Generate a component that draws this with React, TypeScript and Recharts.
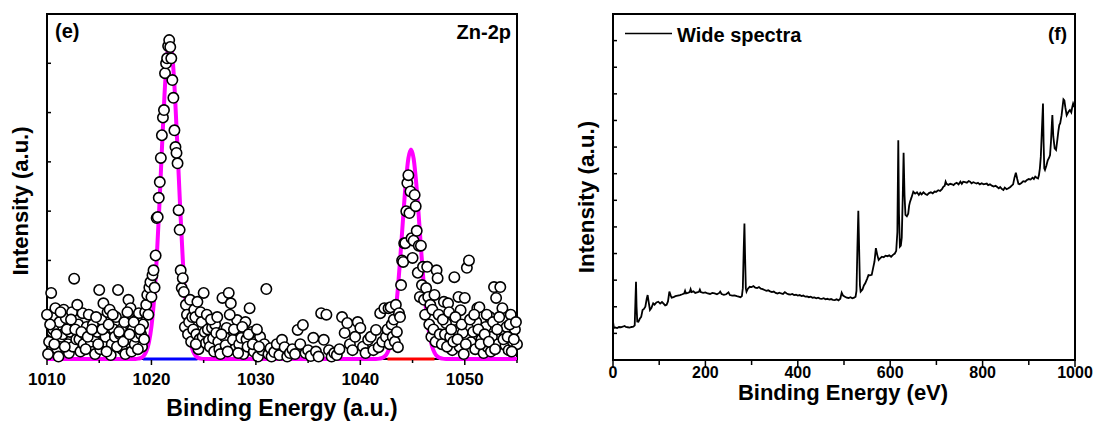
import { ComposedChart, Customized, Line, ReferenceArea, Scatter, XAxis, YAxis } from 'recharts';

const FONT = '"Liberation Sans", Arial, Helvetica, sans-serif';

type Pair = [number, number];

// ---- panel (e): Zn-2p, measured points split by region [energy, intensity]
const zn2pBackgroundLow: Pair[] = [
  [1010.0, 0.9], [1010.1, 0.1], [1010.2, 0.35], [1010.4, 1.34], [1010.5, 0.55], [1010.6, 0.6],
  [1010.8, 1.03], [1011.0, 0.2], [1011.1, 0.05], [1011.2, 0.75], [1011.4, 0.45], [1011.5, 0.5],
  [1011.6, 1.0], [1011.8, 0.83], [1012.0, 0.3], [1012.1, 0.12], [1012.2, 0.55], [1012.4, 0.95],
  [1012.5, 0.25], [1012.6, 1.63], [1012.8, 0.4], [1013.0, 0.7], [1013.1, 0.4], [1013.2, 0.15],
  [1013.4, 0.93], [1013.5, 0.3], [1013.6, 0.5], [1013.8, 0.65], [1014.0, 0.9], [1014.1, 0.25],
  [1014.2, 0.35], [1014.4, 0.7], [1014.5, 0.45], [1014.6, 0.1], [1014.8, 0.55], [1015.0, 1.4],
  [1015.1, 0.2], [1015.2, 0.8], [1015.4, 1.13], [1015.5, 0.35], [1015.6, 0.45], [1015.8, 0.95],
  [1016.0, 1.0], [1016.1, 0.08], [1016.2, 0.3], [1016.4, 0.6], [1016.5, 0.45], [1016.6, 0.85],
  [1016.8, 1.4], [1017.0, 0.5], [1017.1, 0.6], [1017.2, 0.2], [1017.4, 0.75], [1017.5, 0.1],
  [1017.6, 0.4], [1017.8, 1.2], [1018.0, 1.03], [1018.1, 0.15], [1018.2, 0.6], [1018.4, 0.3],
  [1018.5, 0.45], [1018.6, 0.8], [1018.8, 0.93], [1019.0, 0.5], [1019.1, 0.25], [1019.2, 0.7],
  [1019.3, 0.4], [1019.4, 0.95],
];
const zn2pBackgroundLowDense: Pair[] = [
  [1010.3, 0.7], [1010.7, 0.3], [1010.9, 0.5], [1011.3, 0.95], [1011.7, 0.25], [1011.9, 0.6],
  [1012.3, 0.8], [1012.7, 0.6], [1012.9, 1.1], [1013.3, 0.55], [1013.7, 0.2], [1013.9, 0.45],
  [1014.3, 0.6], [1014.7, 0.85], [1014.9, 0.3], [1015.3, 0.6], [1015.7, 0.15], [1015.9, 0.7],
  [1016.3, 0.9], [1016.7, 0.25], [1016.9, 0.55], [1017.3, 0.35], [1017.7, 0.95], [1017.9, 0.5],
  [1018.3, 0.75], [1018.7, 0.2], [1018.9, 0.6],
];

const zn2pPeak32: Pair[] = [
  [1019.5, 1.1], [1019.6, 1.3], [1019.7, 0.9], [1019.8, 1.45], [1019.9, 1.56], [1020.0, 1.26],
  [1020.1, 1.7], [1020.2, 1.8], [1020.3, 1.45], [1020.4, 2.1], [1020.5, 2.86], [1020.6, 2.88],
  [1020.7, 3.27], [1020.8, 3.59], [1020.9, 4.08], [1021.0, 4.54], [1021.1, 4.9], [1021.2, 5.05],
  [1021.3, 5.8], [1021.4, 6.0], [1021.5, 6.1], [1021.6, 6.35], [1021.7, 6.47], [1021.8, 6.33],
  [1021.9, 6.1], [1022.0, 5.66], [1022.1, 5.3], [1022.2, 4.64], [1022.3, 4.3], [1022.4, 4.18],
  [1022.5, 3.97], [1022.6, 3.02], [1022.7, 2.62], [1022.8, 1.8], [1022.9, 1.44], [1023.0, 1.64],
  [1023.1, 1.36], [1023.2, 0.65], [1023.3, 1.1], [1023.4, 0.9], [1023.5, 0.5], [1023.6, 0.75],
  [1023.7, 1.2], [1023.8, 0.35], [1023.9, 0.85], [1024.0, 0.6], [1024.1, 1.0],
];

const zn2pBackgroundMid: Pair[] = [
  [1024.2, 0.85], [1024.3, 0.5], [1024.4, 1.16], [1024.5, 0.2], [1024.6, 0.4], [1024.7, 0.95],
  [1024.8, 0.75], [1024.9, 0.45], [1025.0, 1.34], [1025.1, 0.55], [1025.2, 0.32], [1025.3, 0.9],
  [1025.4, 0.6], [1025.5, 0.38], [1025.6, 0.25], [1025.8, 0.63], [1025.9, 0.42], [1026.0, 0.15],
  [1026.1, 0.7], [1026.2, 0.53], [1026.4, 0.35], [1026.5, 0.2], [1026.6, 0.1], [1026.8, 1.24],
  [1027.0, 0.45], [1027.1, 0.28], [1027.2, 0.63], [1027.4, 1.34], [1027.6, 1.13], [1027.8, 0.39],
  [1028.0, 0.2], [1028.2, 0.79], [1028.4, 0.3], [1028.5, 0.55], [1028.6, 0.43], [1028.8, 0.1],
  [1029.0, 0.75], [1029.1, 0.4], [1029.2, 0.25], [1029.4, 1.03], [1029.6, 0.55], [1029.8, 0.15],
  [1030.0, 0.35], [1030.2, 0.05], [1030.4, 0.45], [1030.6, 0.18], [1030.8, 0.3], [1031.0, 1.42],
  [1031.2, 0.1], [1031.4, 0.22], [1031.5, 0.05], [1031.75, 0.14], [1032.0, 0.3], [1032.25, 0.08],
  [1032.5, 0.39], [1032.75, 0.24], [1033.0, 0.05], [1033.25, 0.12], [1033.5, 0.2], [1033.75, 0.1],
  [1034.0, 0.59], [1034.25, 0.3], [1034.5, 0.69], [1034.75, 0.12], [1035.0, 0.18], [1035.25, 0.06],
  [1035.5, 0.43], [1035.75, 0.15], [1036.0, 0.05], [1036.25, 0.93], [1036.5, 0.39], [1036.75, 0.9],
  [1037.0, 0.18], [1037.25, 0.05], [1037.5, 0.12], [1037.75, 0.08], [1038.0, 0.2], [1038.25, 0.85],
  [1038.5, 0.53], [1038.75, 0.73], [1039.0, 0.3], [1039.25, 0.18], [1039.5, 0.45], [1039.75, 0.75],
  [1040.0, 0.63], [1040.25, 0.25], [1040.5, 0.12], [1040.75, 0.39], [1041.0, 0.45], [1041.25, 0.18],
  [1041.5, 0.59], [1041.75, 0.24], [1041.9, 0.93], [1042.1, 0.35], [1042.3, 1.03], [1042.45, 0.45],
];
const zn2pBackgroundMidDense: Pair[] = [
  [1024.25, 0.3], [1025.7, 0.8], [1026.3, 0.85], [1026.7, 0.5], [1027.3, 0.15], [1027.5, 0.9],
  [1027.9, 0.6], [1028.3, 0.12], [1028.7, 0.65], [1029.3, 0.5], [1029.7, 0.3], [1030.1, 0.6],
  [1030.3, 0.25],
];

const zn2pPeak12: Pair[] = [
  [1042.6, 0.6], [1042.7, 1.03], [1042.8, 0.3], [1042.9, 1.05], [1043.0, 0.7], [1043.1, 0.45],
  [1043.2, 0.8], [1043.3, 0.35], [1043.4, 1.1], [1043.5, 0.55], [1043.6, 0.24], [1043.7, 0.93],
  [1043.8, 0.85], [1043.9, 1.5], [1044.0, 2.0], [1044.1, 1.97], [1044.2, 2.35], [1044.3, 2.35],
  [1044.4, 3.0], [1044.5, 3.57], [1044.6, 3.73], [1044.7, 2.96], [1044.8, 3.4], [1044.9, 2.45],
  [1045.0, 2.05], [1045.1, 2.4], [1045.2, 3.33], [1045.3, 3.1], [1045.4, 2.6], [1045.5, 1.75],
  [1045.6, 2.3], [1045.7, 1.26], [1045.8, 2.3], [1045.9, 1.5], [1046.0, 1.87], [1046.1, 1.2],
  [1046.2, 0.9], [1046.3, 1.44], [1046.4, 1.87], [1046.5, 1.26], [1046.6, 0.7], [1046.7, 1.1],
  [1046.8, 0.45], [1046.9, 1.0], [1047.0, 0.6], [1047.1, 1.3], [1047.2, 0.35], [1047.3, 1.8],
  [1047.4, 1.64], [1047.5, 0.9], [1047.6, 0.5],
];

const zn2pBackgroundHigh: Pair[] = [
  [1047.8, 0.3], [1048.0, 1.16], [1048.1, 0.5], [1048.2, 0.73], [1048.4, 1.13], [1048.6, 0.45],
  [1048.8, 0.18], [1049.0, 1.66], [1049.2, 0.59], [1049.4, 1.26], [1049.5, 0.25], [1049.6, 0.99],
  [1049.8, 0.53], [1049.9, 0.1], [1050.0, 1.24], [1050.2, 1.85], [1050.4, 2.0], [1050.6, 0.34],
  [1050.8, 0.55], [1051.0, 0.2], [1051.1, 0.75], [1051.2, 1.03], [1051.4, 1.05], [1051.6, 0.4],
  [1051.8, 0.12], [1052.0, 0.65], [1052.2, 0.24], [1052.4, 0.85], [1052.5, 0.15], [1052.6, 0.45],
  [1052.8, 1.46], [1053.0, 1.24], [1053.2, 0.3], [1053.4, 1.46], [1053.6, 1.03], [1053.8, 0.55],
  [1053.9, 0.28], [1054.0, 0.65], [1054.2, 0.18], [1054.4, 0.9], [1054.6, 0.35], [1054.8, 0.6],
  [1055.0, 0.3],
];
const zn2pBackgroundHighDense: Pair[] = [
  [1047.9, 0.8], [1048.3, 0.25], [1048.5, 0.95], [1048.7, 0.6], [1048.9, 0.35], [1049.1, 0.85],
  [1049.3, 0.4], [1049.7, 0.7], [1050.1, 0.3], [1050.5, 0.8], [1050.9, 0.9], [1051.3, 0.6],
  [1051.5, 0.3], [1051.9, 0.5], [1052.1, 0.9], [1052.3, 0.35], [1052.7, 0.75], [1052.9, 0.2],
  [1053.1, 0.6], [1053.3, 0.85], [1053.7, 0.4], [1054.1, 0.45], [1054.3, 0.7], [1054.5, 0.15],
  [1054.7, 0.4], [1054.9, 0.75],
];

// fitted envelope (magenta) and the two peak baselines
const zn2pFit: Pair[] = [
  [1010, 0], [1018.5, 0], [1018.75, 0.008], [1019, 0.023], [1019.25, 0.062], [1019.5, 0.15],
  [1019.75, 0.33], [1020, 0.66], [1020.25, 1.21], [1020.5, 2.02], [1020.75, 3.07], [1021, 4.25],
  [1021.25, 5.36], [1021.5, 6.16], [1021.75, 6.45], [1022, 6.16], [1022.25, 5.36], [1022.5, 4.25],
  [1022.75, 3.07], [1023, 2.02], [1023.25, 1.21], [1023.5, 0.66], [1023.75, 0.33], [1024, 0.15],
  [1024.25, 0.062], [1024.5, 0.023], [1024.75, 0.008], [1025, 0], [1041.5, 0], [1041.85, 0.008],
  [1042.1, 0.023], [1042.35, 0.056], [1042.6, 0.13], [1042.85, 0.27], [1043.1, 0.51],
  [1043.35, 0.9], [1043.6, 1.44], [1043.85, 2.13], [1044.1, 2.88], [1044.35, 3.57],
  [1044.6, 4.07], [1044.85, 4.25], [1045.1, 4.07], [1045.35, 3.57], [1045.6, 2.88],
  [1045.85, 2.13], [1046.1, 1.44], [1046.35, 0.9], [1046.6, 0.51], [1046.85, 0.27],
  [1047.1, 0.13], [1047.35, 0.056], [1047.6, 0.023], [1047.85, 0.008], [1048.2, 0], [1055, 0],
];
const zn2p32Base: Pair[] = [[1019.2, 0], [1024.4, 0]];
const zn2p12Base: Pair[] = [[1042.6, 0], [1047.1, 0]];

const ZN_X_TICKS = [1010, 1015, 1020, 1025, 1030, 1035, 1040, 1045, 1050, 1055];
const ZN_Y_TICKS = [0, 1, 2, 3, 4, 5, 6, 7];

// ---- panel (f): wide survey spectrum [eV, intensity]
const surveyLowEnergy: Pair[] = [
  [0, 1.44], [2, 1.2], [5, 1.22], [9, 1.2], [13, 1.24], [17, 1.23], [21, 1.25], [25, 1.28],
  [28, 1.24], [32, 1.23], [36, 1.22], [40, 1.24], [44, 1.25], [47, 1.3], [48.5, 2.2], [49.8, 2.94],
  [51, 2.0], [52.5, 1.45], [55, 1.44], [58, 1.55], [61, 1.62], [64, 1.88], [67, 1.92], [70, 2.0],
  [73, 2.3], [75, 2.44], [77, 2.2], [80, 1.88], [83, 1.95], [87, 2.13], [90, 2.08], [94, 2.16],
  [98, 2.19], [102, 2.12], [106, 2.18], [109, 2.13], [113, 2.05], [116, 2.07], [119, 2.2],
  [122, 2.57], [125, 2.42], [127, 2.34], [131, 2.36], [135, 2.4], [140, 2.42], [145, 2.44],
  [150, 2.47], [154, 2.5], [156, 2.6], [158, 2.5], [162, 2.52], [166, 2.55], [168, 2.66],
  [170, 2.55], [174, 2.58], [178, 2.52], [182, 2.54], [186, 2.56], [188, 2.64], [190, 2.55],
  [195, 2.52], [200, 2.54], [205, 2.5], [210, 2.48], [215, 2.52], [220, 2.5], [225, 2.47],
  [230, 2.52], [232, 2.57], [235, 2.48], [240, 2.45], [245, 2.47], [250, 2.54], [253, 2.44],
  [258, 2.42], [263, 2.43], [268, 2.4], [272, 2.38], [276, 2.36], [279, 2.4], [281, 2.7],
  [283, 4.2], [284.5, 5.13], [286, 3.8], [287.5, 2.7], [289, 2.57],
];

const surveyMidEnergy: Pair[] = [
  [292, 2.68], [296, 2.75], [300, 2.74], [304, 2.78], [308, 2.72], [312, 2.7], [316, 2.74],
  [320, 2.68], [324, 2.66], [328, 2.63], [332, 2.6], [336, 2.62], [340, 2.58], [344, 2.55],
  [348, 2.57], [352, 2.52], [356, 2.5], [360, 2.53], [364, 2.5], [368, 2.48], [372, 2.55],
  [376, 2.5], [380, 2.47], [384, 2.46], [388, 2.48], [392, 2.44], [396, 2.45], [400, 2.42],
  [404, 2.44], [408, 2.4], [412, 2.42], [416, 2.38], [420, 2.39], [424, 2.36], [428, 2.38],
  [432, 2.34], [436, 2.35], [440, 2.32], [444, 2.34], [448, 2.31], [452, 2.3], [456, 2.32],
  [460, 2.28], [464, 2.3], [468, 2.27], [472, 2.29], [476, 2.26], [480, 2.25], [484, 2.28],
  [488, 2.24], [492, 2.3], [495, 2.53], [498, 2.42], [502, 2.38], [506, 2.34], [510, 2.33],
  [514, 2.36], [518, 2.32], [522, 2.34], [525, 2.38], [527, 2.6], [529, 4.2], [531, 5.61],
  [533, 4.0], [534.5, 2.8], [536, 2.57], [540, 2.65], [543, 2.8], [546, 2.88], [550, 3.05],
  [553, 3.19], [556, 3.18], [560, 3.2], [563, 3.45], [566, 3.7], [569, 4.2], [572, 3.95],
  [575, 3.76], [578, 3.82], [582, 3.88], [586, 3.86], [590, 3.92], [594, 3.9], [598, 3.93],
  [602, 3.88], [606, 3.95], [610, 4.0], [613, 4.1], [615.5, 4.8], [617.5, 8.26], [619, 5.5],
  [621, 4.26], [623, 4.3], [625, 4.6], [627, 6.0], [629, 7.79], [631, 6.2], [633, 5.45],
  [636, 5.4], [639, 5.5], [641, 5.8], [643, 5.95],
];

const surveyHighEnergy: Pair[] = [
  [646, 6.1], [650, 6.32], [654, 6.25], [658, 6.3], [662, 6.2], [665, 6.28], [668, 6.22],
  [672, 6.3], [676, 6.24], [680, 6.2], [684, 6.27], [688, 6.3], [692, 6.26], [696, 6.33],
  [700, 6.32], [704, 6.38], [708, 6.35], [712, 6.42], [715, 6.51], [718, 6.55], [720, 6.7],
  [722, 6.62], [726, 6.58], [730, 6.62], [734, 6.6], [737, 6.57], [740, 6.62], [744, 6.66],
  [748, 6.6], [752, 6.7], [755, 6.62], [758, 6.7], [762, 6.68], [766, 6.66], [770, 6.72],
  [773, 6.7], [776, 6.64], [780, 6.68], [784, 6.65], [787, 6.63], [790, 6.66], [794, 6.6],
  [798, 6.64], [802, 6.6], [806, 6.62], [809, 6.63], [812, 6.57], [816, 6.6], [820, 6.55],
  [824, 6.52], [828, 6.55], [831, 6.51], [835, 6.45], [838, 6.5], [842, 6.42], [845, 6.39],
  [848, 6.48], [852, 6.42], [856, 6.45], [860, 6.5], [863, 6.55], [866, 6.6], [869, 6.85],
  [872, 7.04], [875, 6.8], [877.5, 6.62], [880, 6.6], [884, 6.65], [888, 6.72], [892, 6.7],
  [896, 6.76], [900, 6.8], [904, 6.78], [908, 6.85], [911, 6.8], [914, 6.89], [917, 6.85],
  [920, 6.82], [922, 6.95], [924, 7.2], [926, 7.64], [928, 8.5], [930.7, 9.64], [932, 8.2],
  [933.5, 7.2], [935, 7.14], [938, 7.3], [941, 7.5], [944, 7.6], [946, 7.7], [948, 8.2],
  [950, 8.9], [951, 9.2], [953, 8.4], [956, 7.95], [959, 7.89], [962, 8.3], [964, 8.6],
  [966, 8.83], [968, 8.9], [971, 9.2], [973, 9.5], [975, 9.79], [977, 9.75], [979, 9.5],
  [982, 9.2], [985, 9.3], [987, 9.35], [989, 9.39], [992, 9.3], [994, 9.5], [996, 9.64],
  [998, 9.55], [1000, 9.66],
];

const SURVEY_X_TICKS = [0, 100, 200, 300, 400, 500, 600, 700, 800, 900, 1000];
const SURVEY_Y_TICKS = [0, 1, 2, 3, 4, 5, 6, 7, 8, 9, 10, 11, 12, 13];

const toRows = (pairs: Pair[]) => pairs.map(([e, v]) => ({ e, v }));

const znPoints = toRows([
  ...zn2pBackgroundLow,
  ...zn2pBackgroundLowDense,
  ...zn2pPeak32,
  ...zn2pBackgroundMid,
  ...zn2pBackgroundMidDense,
  ...zn2pPeak12,
  ...zn2pBackgroundHigh,
  ...zn2pBackgroundHighDense,
]);
const surveyRows = toRows([...surveyLowEnergy, ...surveyMidEnergy, ...surveyHighEnergy]);

// frame is drawn by a ReferenceArea (behind the data), so axes draw no line
const FRAME = { fill: 'none', stroke: '#000', strokeWidth: 2 };

function makeEnergyTick(majorEvery: number, majorLen: number, minorLen: number, gap: number, fontSize: number) {
  return (props: any) => {
    const { x, y, payload } = props;
    const major = payload.value % majorEvery === 0;
    return (
      <g>
        <line x1={x} x2={x} y1={y + 1} y2={y + 1 + (major ? majorLen : minorLen)} stroke="#000" strokeWidth={1.5} />
        {major && (
          <text
            x={x}
            y={y + gap}
            dy="0.71em"
            textAnchor="middle"
            fontFamily={FONT}
            fontWeight="bold"
            fontSize={fontSize}
            fill="#000"
          >
            {payload.value}
          </text>
        )}
      </g>
    );
  };
}

const circleShape = (props: any) => (
  <circle cx={props.cx} cy={props.cy} r={5.2} fill="#fff" stroke="#000" strokeWidth={1.6} />
);

function ZnText() {
  return (
    <g fontFamily={FONT} fontWeight="bold" fill="#000">
      <text x={55} y={38} fontSize={20}>(e)</text>
      <text x={511} y={39} fontSize={20} textAnchor="end">Zn-2p</text>
      <text x={282} y={416} fontSize={23} textAnchor="middle">Binding Energy (a.u.)</text>
      <text transform="translate(28,201) rotate(-90)" fontSize={22} textAnchor="middle">
        Intensity (a.u.)
      </text>
    </g>
  );
}

function SurveyText() {
  return (
    <g fontFamily={FONT} fontWeight="bold" fill="#000">
      <line x1={65} x2={112} y1={33.5} y2={33.5} stroke="#000" strokeWidth={1.5} />
      <text x={117} y={41.5} fontSize={20}>Wide spectra</text>
      <text x={507} y={40} fontSize={19} textAnchor="end">(f)</text>
      <text x={283} y={400} fontSize={22} textAnchor="middle">Binding Energy (eV)</text>
      <text transform="translate(34,197) rotate(-90)" fontSize={22.5} textAnchor="middle">
        Intensity (a.u.)
      </text>
    </g>
  );
}

function Zn2pPanel() {
  return (
    <ComposedChart width={545} height={422} margin={{ top: 14, right: 28, bottom: 33, left: 47 }}>
      <XAxis
        dataKey="e"
        type="number"
        domain={[1010, 1055]}
        ticks={ZN_X_TICKS}
        interval={0}
        height={30}
        tickSize={0}
        tickMargin={0}
        tickLine={false}
        axisLine={false}
        tick={makeEnergyTick(10, 5, 3, 14, 17)}
      />
      <YAxis
        type="number"
        domain={[0, 7]}
        ticks={ZN_Y_TICKS}
        mirror
        tickSize={4}
        tickLine={{ stroke: '#000', strokeWidth: 1.5 }}
        tickFormatter={() => ''}
        axisLine={false}
      />
      <ReferenceArea x1={1010} x2={1055} y1={0} y2={7} {...FRAME} />
      <Scatter data={znPoints} dataKey="v" shape={circleShape} isAnimationActive={false} />
      <Line data={toRows(zn2p32Base)} dataKey="v" stroke="#0000ff" strokeWidth={3} dot={false} isAnimationActive={false} />
      <Line data={toRows(zn2p12Base)} dataKey="v" stroke="#ff0000" strokeWidth={3} dot={false} isAnimationActive={false} />
      <Line
        data={toRows(zn2pFit)}
        dataKey="v"
        type="monotone"
        stroke="#ff00ff"
        strokeWidth={4}
        dot={false}
        isAnimationActive={false}
      />
      <Customized component={ZnText} />
    </ComposedChart>
  );
}

function SurveyPanel() {
  return (
    <ComposedChart width={536} height={422} data={surveyRows} margin={{ top: 14, right: 21, bottom: 32, left: 53 }}>
      <XAxis
        dataKey="e"
        type="number"
        domain={[0, 1000]}
        ticks={SURVEY_X_TICKS}
        interval={0}
        height={30}
        tickSize={0}
        tickMargin={0}
        tickLine={false}
        axisLine={false}
        tick={makeEnergyTick(200, 6, 4, 6.5, 16)}
      />
      <YAxis
        type="number"
        domain={[0, 13]}
        ticks={SURVEY_Y_TICKS}
        mirror
        tickSize={4}
        tickLine={{ stroke: '#000', strokeWidth: 1.5 }}
        tickFormatter={() => ''}
        axisLine={false}
      />
      <ReferenceArea x1={0} x2={1000} y1={0} y2={13} {...FRAME} />
      <Line dataKey="v" type="linear" stroke="#000" strokeWidth={1.8} dot={false} isAnimationActive={false} />
      <Customized component={SurveyText} />
    </ComposedChart>
  );
}

export default function App() {
  return (
    <div style={{ position: 'absolute', left: 0, top: 0, width: 1096, height: 422, background: '#fff' }}>
      <div style={{ position: 'absolute', left: 0, top: 0 }}>
        <Zn2pPanel />
      </div>
      <div style={{ position: 'absolute', left: 560, top: 0 }}>
        <SurveyPanel />
      </div>
    </div>
  );
}
